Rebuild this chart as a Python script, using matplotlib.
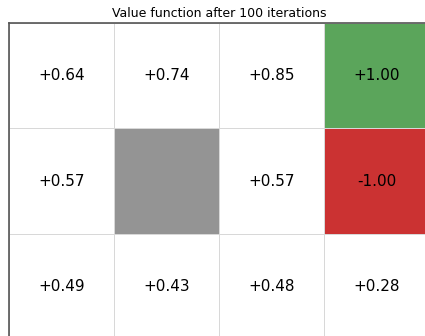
import numpy as np
import matplotlib
matplotlib.use("Agg")
import matplotlib.pyplot as plt
from matplotlib.colors import ListedColormap

title = "Value function after 100 iterations"
values = [[0.64, 0.74, 0.85, 1.00],
          [0.57, None, 0.57, -1.00],
          [0.49, 0.43, 0.48, 0.28]]
# cell kinds: 0 normal, 1 goal, 2 pit, 3 wall
kinds = [[0, 0, 0, 1],
         [0, 3, 0, 2],
         [0, 0, 0, 0]]
colors = ["white", "#5ba55b", "#cb3232", "#949494"]

fig = plt.figure(figsize=(4.25, 3.36), dpi=100)
W, H = 425, 336
x0, x1, y0, y1 = 9, 429, 23, 339
ax = fig.add_axes([x0 / W, (H - y1) / H, (x1 - x0) / W, (y1 - y0) / H])
k = np.array(kinds)
ax.pcolormesh(np.arange(5), np.arange(4), k, cmap=ListedColormap(colors),
              vmin=-0.5, vmax=3.5, edgecolors="#d8d8d8", linewidth=0.6)
ax.set_xlim(0, 4)
ax.set_ylim(3, 0)
for r in range(3):
    for c in range(4):
        v = values[r][c]
        if v is None:
            continue
        ax.text(c + 0.5, r + 0.5, f"{v:+.2f}", ha="center", va="center", fontsize=11, color="black")
ax.set_xticks([])
ax.set_yticks([])
for s in ["left", "top"]:
    ax.spines[s].set_color("#555555")
    ax.spines[s].set_linewidth(1.2)
ax.set_title(title, fontsize=9, pad=4)
fig.savefig("out.png", dpi=100)
